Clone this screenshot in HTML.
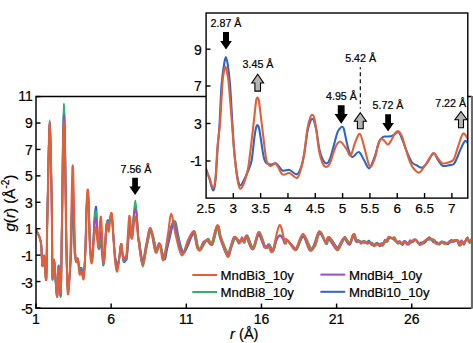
<!DOCTYPE html>
<html><head><meta charset="utf-8"><style>
html,body{margin:0;padding:0;background:#fff;width:473px;height:343px;overflow:hidden}
svg{display:block}
text{stroke:#000;stroke-width:0.22px}
</style></head><body>
<svg width="473" height="343" viewBox="0 0 473 343">
<defs><clipPath id="cm"><rect x="36" y="96.6" width="436" height="211.4"/></clipPath><clipPath id="ci"><rect x="206" y="13" width="261.8" height="185"/></clipPath></defs>
<rect width="473" height="343" fill="#fff"/>
<g clip-path="url(#cm)" fill="none" stroke-width="2.1" stroke-linejoin="round" stroke-linecap="round">
<path d="M36.20,229.90 C36.75,231.13 38.67,234.82 39.50,237.30 C40.33,239.78 40.72,240.05 41.20,244.80 C41.68,249.55 41.90,263.95 42.40,265.80 C42.90,267.65 43.57,253.62 44.20,255.90 C44.83,258.18 45.72,283.82 46.20,279.50 C46.68,275.18 46.83,244.08 47.10,230.00 C47.37,215.92 47.57,206.67 47.80,195.00 C48.03,183.33 48.28,170.00 48.50,160.00 C48.72,150.00 48.90,141.33 49.10,135.00 C49.30,128.67 49.50,122.00 49.70,122.00 C49.90,122.00 50.10,128.67 50.30,135.00 C50.50,141.33 50.68,150.00 50.90,160.00 C51.12,170.00 51.40,182.50 51.60,195.00 C51.80,207.50 51.95,220.95 52.10,235.00 C52.25,249.05 52.17,275.18 52.50,279.30 C52.83,283.42 53.35,256.82 54.10,259.70 C54.85,262.58 56.26,295.60 57.00,296.60 C57.74,297.60 58.13,268.36 58.55,265.69 C58.96,263.02 59.18,275.38 59.51,280.58 C59.83,285.77 60.22,296.64 60.50,296.88 C60.77,297.11 60.96,291.56 61.16,281.99 C61.36,272.43 61.52,252.46 61.71,239.47 C61.89,226.48 62.08,219.25 62.26,204.04 C62.44,188.82 62.60,162.37 62.81,148.19 C63.01,134.02 63.30,125.75 63.50,118.99 C63.69,112.24 63.82,107.66 63.99,107.66 C64.17,107.66 64.34,112.24 64.54,118.99 C64.74,125.75 64.96,134.02 65.17,148.19 C65.39,162.37 65.66,189.30 65.83,204.04 C66.01,218.78 66.09,226.48 66.25,236.64 C66.41,246.80 66.61,257.43 66.80,264.98 C66.98,272.54 67.15,277.86 67.35,281.99 C67.54,286.13 67.70,289.79 67.98,289.79 C68.26,289.79 68.62,285.66 69.00,281.99 C69.37,278.33 69.88,272.54 70.24,267.82 C70.59,263.10 70.84,261.54 71.12,253.65 C71.39,245.76 71.69,228.06 71.89,220.48 C72.08,212.90 72.16,210.89 72.30,208.15 C72.44,205.41 72.57,204.04 72.71,204.04 C72.85,204.04 72.99,205.41 73.12,208.15 C73.26,210.89 73.28,212.90 73.54,220.48 C73.79,228.06 74.19,247.06 74.64,253.65 C75.09,260.24 75.70,259.20 76.23,260.02 C76.77,260.85 77.30,257.19 77.86,258.61 C78.41,260.02 78.98,266.99 79.59,268.53 C80.20,270.06 80.85,266.92 81.51,267.82 C82.18,268.72 83.03,274.86 83.58,273.91 C84.13,272.97 84.47,267.42 84.81,262.15 C85.16,256.88 85.36,250.57 85.64,242.31 C85.91,234.04 86.19,219.91 86.46,212.54 C86.74,205.17 87.07,200.92 87.29,198.08 C87.51,195.25 87.60,195.53 87.76,195.53 C87.92,195.53 88.06,195.25 88.25,198.08 C88.45,200.92 88.69,205.64 88.94,212.54 C89.19,219.44 89.47,232.62 89.77,239.47 C90.06,246.32 90.39,250.50 90.73,253.65 C91.07,256.79 91.48,258.63 91.80,258.32 C92.12,258.02 92.35,255.77 92.65,251.80 C92.96,247.83 93.28,240.70 93.62,234.51 C93.96,228.32 94.39,218.97 94.69,214.67 C94.99,210.37 95.22,210.06 95.43,208.71 C95.64,207.37 95.79,206.52 95.95,206.59 C96.12,206.66 96.26,206.14 96.45,209.14 C96.64,212.14 96.84,219.13 97.08,224.59 C97.33,230.05 97.63,237.75 97.94,241.88 C98.24,246.02 98.46,249.32 98.90,249.39 C99.34,249.46 100.06,241.60 100.58,242.31 C101.09,243.02 101.53,249.80 102.01,253.65 C102.49,257.50 102.96,266.40 103.46,265.41 C103.97,264.42 104.59,253.91 105.03,247.69 C105.48,241.48 105.77,232.57 106.13,228.13 C106.49,223.69 106.86,222.35 107.21,221.05 C107.55,219.75 107.84,220.50 108.20,220.34 C108.55,220.17 108.98,220.53 109.35,220.05 C109.72,219.58 110.03,218.47 110.40,217.50 C110.76,216.53 111.16,212.94 111.52,214.24 C111.89,215.54 112.23,220.95 112.60,225.30 C112.96,229.64 113.28,235.13 113.70,240.32 C114.12,245.52 114.65,252.96 115.13,256.48 C115.61,260.00 116.10,260.12 116.59,261.44 C117.07,262.76 117.56,265.01 118.02,264.42 C118.47,263.83 118.82,261.30 119.34,257.90 C119.85,254.50 120.59,244.72 121.10,244.01 C121.60,243.30 121.94,250.67 122.36,253.65 C122.78,256.62 123.07,260.66 123.60,261.87 C124.13,263.07 125.01,261.30 125.53,260.87 C126.04,260.45 126.36,260.99 126.71,259.32 C127.05,257.64 127.30,253.98 127.59,250.81 C127.87,247.65 128.05,244.34 128.41,240.32 C128.78,236.31 129.39,228.37 129.76,226.72 C130.13,225.06 130.24,228.52 130.61,230.40 C130.99,232.28 131.47,240.40 132.00,238.00 C132.53,235.60 133.25,221.17 133.80,216.00 C134.35,210.83 134.80,207.00 135.30,207.00 C135.80,207.00 136.27,210.50 136.80,216.00 C137.33,221.50 138.12,235.89 138.50,240.00 C138.88,244.11 138.33,237.07 139.10,240.68 C139.87,244.28 141.77,260.98 143.10,261.62 C144.43,262.26 145.75,249.75 147.10,244.51 C148.45,239.27 149.65,229.34 151.20,230.19 C152.75,231.05 154.92,247.18 156.40,249.63 C157.88,252.08 158.73,243.25 160.10,244.89 C161.47,246.54 163.40,258.90 164.60,259.50 C165.80,260.10 166.33,252.50 167.30,248.50 C168.27,244.50 169.45,239.50 170.40,235.50 C171.35,231.50 172.13,226.73 173.00,224.50 C173.87,222.27 174.72,220.27 175.60,222.10 C176.48,223.93 177.35,231.27 178.30,235.50 C179.25,239.73 180.28,244.67 181.30,247.50 C182.32,250.33 183.15,253.17 184.40,252.50 C185.65,251.83 187.12,247.06 188.80,243.50 C190.48,239.94 193.05,230.45 194.50,231.16 C195.95,231.88 196.48,244.91 197.50,247.79 C198.52,250.67 199.53,249.12 200.60,248.44 C201.67,247.77 202.65,245.26 203.90,243.72 C205.15,242.18 206.70,239.04 208.10,239.20 C209.50,239.36 210.68,246.91 212.30,244.70 C213.92,242.49 216.35,226.87 217.80,225.92 C219.25,224.96 219.30,233.94 221.00,238.99 C222.70,244.05 226.30,255.00 228.00,256.26 C229.70,257.53 230.02,249.55 231.20,246.60 C232.38,243.66 233.60,239.54 235.10,238.62 C236.60,237.71 238.92,240.88 240.20,241.12 C241.48,241.35 242.12,239.80 242.80,240.05 C243.48,240.29 243.57,243.38 244.30,242.57 C245.03,241.76 245.70,234.31 247.20,235.20 C248.70,236.10 251.32,248.01 253.30,247.92 C255.28,247.84 257.13,234.89 259.10,234.69 C261.07,234.49 263.62,244.61 265.10,246.71 C266.58,248.80 267.28,247.66 268.00,247.27 C268.72,246.88 268.55,243.66 269.40,244.38 C270.25,245.10 271.92,252.32 273.10,251.59 C274.28,250.86 275.43,242.70 276.50,240.00 C277.57,237.30 278.50,235.73 279.50,235.40 C280.50,235.07 281.50,237.06 282.50,238.00 C283.50,238.94 284.70,240.67 285.50,241.06 C286.30,241.46 285.78,239.17 287.30,240.37 C288.82,241.57 292.97,246.87 294.60,248.29 C296.23,249.70 295.58,250.85 297.10,248.86 C298.62,246.88 301.45,236.18 303.70,236.38 C305.95,236.57 308.72,248.83 310.60,250.05 C312.48,251.26 313.42,246.38 315.00,243.66 C316.58,240.95 318.22,233.71 320.10,233.77 C321.98,233.84 324.78,243.53 326.30,244.07 C327.82,244.61 327.45,236.53 329.20,237.02 C330.95,237.52 335.17,245.34 336.80,247.02 C338.43,248.70 337.67,248.78 339.00,247.10 C340.33,245.42 342.98,237.36 344.80,236.97 C346.62,236.57 348.35,245.25 349.90,244.74 C351.45,244.22 352.97,234.32 354.10,233.87 C355.23,233.41 355.83,240.85 356.70,242.01 C357.57,243.18 358.42,240.89 359.30,240.86 C360.18,240.83 361.18,241.52 362.00,241.84 C362.82,242.16 363.40,242.67 364.20,242.77 C365.00,242.87 366.00,242.80 366.80,242.44 C367.60,242.09 368.20,240.23 369.00,240.65 C369.80,241.07 370.58,244.41 371.60,244.96 C372.62,245.52 374.15,244.35 375.10,243.99 C376.05,243.63 376.57,242.43 377.30,242.81 C378.03,243.19 378.85,246.04 379.50,246.27 C380.15,246.50 380.55,244.65 381.20,244.20 C381.85,243.75 382.67,244.03 383.40,243.57 C384.13,243.12 384.95,241.76 385.60,241.46 C386.25,241.15 386.67,242.44 387.30,241.74 C387.93,241.03 388.53,237.79 389.40,237.22 C390.27,236.65 391.68,237.91 392.50,238.30 C393.32,238.70 393.63,239.02 394.30,239.59 C394.97,240.16 395.92,241.37 396.50,241.71 C397.08,242.05 397.22,241.69 397.80,241.62 C398.38,241.55 399.20,240.71 400.00,241.30 C400.80,241.89 401.73,245.20 402.60,245.17 C403.47,245.13 404.25,241.32 405.20,241.09 C406.15,240.85 407.35,243.43 408.30,243.73 C409.25,244.03 409.95,243.62 410.90,242.87 C411.85,242.13 413.05,239.54 414.00,239.26 C414.95,238.97 415.80,240.44 416.60,241.18 C417.40,241.92 418.07,243.49 418.80,243.70 C419.53,243.91 420.20,242.44 421.00,242.42 C421.80,242.41 422.73,243.79 423.60,243.59 C424.47,243.39 425.28,242.31 426.20,241.23 C427.12,240.16 428.18,237.32 429.10,237.14 C430.02,236.96 430.85,239.42 431.70,240.17 C432.55,240.92 433.35,241.32 434.20,241.64 C435.05,241.96 435.95,241.63 436.80,242.09 C437.65,242.55 438.37,244.49 439.30,244.42 C440.23,244.36 441.47,242.04 442.40,241.70 C443.33,241.35 443.97,241.92 444.90,242.37 C445.83,242.82 446.97,244.76 448.00,244.38 C449.03,243.99 450.08,240.51 451.10,240.06 C452.12,239.61 453.00,241.66 454.10,241.66 C455.20,241.67 456.68,239.79 457.70,240.08 C458.72,240.37 459.43,242.94 460.20,243.39 C460.97,243.83 461.62,242.56 462.30,242.75 C462.98,242.93 463.45,245.40 464.30,244.49 C465.15,243.58 466.55,237.59 467.40,237.30 C468.25,237.00 468.63,242.23 469.40,242.73 C470.17,243.23 471.13,240.97 472.00,240.29 C472.87,239.61 474.17,238.92 474.60,238.65" stroke="#2E66C4" stroke-width="1.8"/>
<path d="M36.20,229.90 C36.75,231.13 38.67,234.82 39.50,237.30 C40.33,239.78 40.72,240.05 41.20,244.80 C41.68,249.55 41.90,263.95 42.40,265.80 C42.90,267.65 43.57,253.62 44.20,255.90 C44.83,258.18 45.72,283.82 46.20,279.50 C46.68,275.18 46.83,244.08 47.10,230.00 C47.37,215.92 47.57,206.67 47.80,195.00 C48.03,183.33 48.28,170.00 48.50,160.00 C48.72,150.00 48.90,141.65 49.10,135.00 C49.30,128.35 49.50,120.10 49.70,120.10 C49.90,120.10 50.10,128.35 50.30,135.00 C50.50,141.65 50.68,150.00 50.90,160.00 C51.12,170.00 51.40,182.50 51.60,195.00 C51.80,207.50 51.95,220.95 52.10,235.00 C52.25,249.05 52.17,275.18 52.50,279.30 C52.83,283.42 53.35,256.82 54.10,259.70 C54.85,262.58 56.26,295.49 57.00,296.60 C57.74,297.71 58.13,269.09 58.55,266.37 C58.96,263.66 59.18,275.33 59.51,280.29 C59.83,285.26 60.22,295.98 60.50,296.17 C60.77,296.36 60.96,291.02 61.16,281.43 C61.36,271.83 61.52,251.34 61.71,238.61 C61.89,225.88 62.08,219.49 62.26,205.04 C62.44,190.59 62.60,165.91 62.81,151.92 C63.01,137.93 63.30,129.09 63.50,121.10 C63.69,113.12 63.82,103.78 63.99,104.00 C64.17,104.21 64.34,114.32 64.54,122.39 C64.74,130.45 64.96,138.52 65.17,152.38 C65.39,166.25 65.66,191.47 65.83,205.58 C66.01,219.68 66.09,227.11 66.25,237.01 C66.41,246.91 66.61,257.39 66.80,264.98 C66.98,272.58 67.15,278.29 67.35,282.58 C67.54,286.87 67.70,290.68 67.98,290.72 C68.26,290.77 68.62,286.90 69.00,282.84 C69.37,278.79 69.88,272.22 70.24,266.40 C70.59,260.59 70.84,256.63 71.12,247.96 C71.39,239.29 71.69,222.24 71.89,214.38 C72.08,206.52 72.16,203.83 72.30,200.82 C72.44,197.80 72.57,196.28 72.71,196.27 C72.85,196.26 72.99,197.82 73.12,200.76 C73.26,203.69 73.28,205.74 73.54,213.87 C73.79,222.01 74.19,241.82 74.64,249.58 C75.09,257.34 75.70,258.91 76.23,260.45 C76.77,261.99 77.30,257.30 77.86,258.84 C78.41,260.38 78.98,268.02 79.59,269.66 C80.20,271.30 80.85,267.79 81.51,268.67 C82.18,269.55 83.03,276.00 83.58,274.96 C84.13,273.92 84.47,267.90 84.81,262.43 C85.16,256.97 85.36,250.64 85.64,242.19 C85.91,233.75 86.19,219.31 86.46,211.78 C86.74,204.24 87.07,199.90 87.29,197.00 C87.51,194.10 87.60,194.37 87.76,194.40 C87.92,194.43 88.06,194.14 88.25,197.18 C88.45,200.22 88.69,205.46 88.94,212.63 C89.19,219.80 89.47,233.22 89.77,240.22 C90.06,247.22 90.39,251.49 90.73,254.65 C91.07,257.81 91.48,259.43 91.80,259.16 C92.12,258.89 92.35,256.84 92.65,253.02 C92.96,249.20 93.28,242.08 93.62,236.24 C93.96,230.40 94.39,221.94 94.69,217.99 C94.99,214.05 95.22,213.70 95.43,212.58 C95.64,211.47 95.79,211.07 95.95,211.31 C96.12,211.54 96.26,211.34 96.45,213.98 C96.64,216.61 96.84,222.41 97.08,227.14 C97.33,231.86 97.63,238.98 97.94,242.34 C98.24,245.70 98.46,248.05 98.90,247.29 C99.34,246.54 100.06,237.38 100.58,237.82 C101.09,238.25 101.53,245.48 102.01,249.90 C102.49,254.33 102.96,264.64 103.46,264.35 C103.97,264.07 104.59,254.19 105.03,248.20 C105.48,242.22 105.77,232.81 106.13,228.43 C106.49,224.04 106.86,222.94 107.21,221.90 C107.55,220.86 107.84,222.26 108.20,222.16 C108.55,222.07 108.98,222.12 109.35,221.34 C109.72,220.56 110.03,218.69 110.40,217.48 C110.76,216.27 111.16,212.86 111.52,214.08 C111.89,215.30 112.23,220.37 112.60,224.79 C112.96,229.21 113.28,235.16 113.70,240.58 C114.12,246.00 114.65,253.60 115.13,257.32 C115.61,261.05 116.10,261.69 116.59,262.94 C117.07,264.19 117.56,265.68 118.02,264.81 C118.47,263.94 118.82,261.19 119.34,257.72 C119.85,254.25 120.59,244.76 121.10,244.01 C121.60,243.26 121.94,250.36 122.36,253.22 C122.78,256.08 123.07,260.06 123.60,261.19 C124.13,262.32 125.01,260.53 125.53,260.00 C126.04,259.46 126.36,259.90 126.71,257.98 C127.05,256.06 127.30,251.85 127.59,248.48 C127.87,245.11 128.05,241.64 128.41,237.76 C128.78,233.88 129.39,226.64 129.76,225.20 C130.13,223.77 130.24,227.02 130.61,229.15 C130.99,231.29 131.47,240.53 132.00,238.00 C132.53,235.47 133.25,220.25 133.80,214.00 C134.35,207.75 134.80,200.50 135.30,200.50 C135.80,200.50 136.27,207.42 136.80,214.00 C137.33,220.58 138.07,235.53 138.50,240.00 C138.93,244.47 138.72,236.41 139.40,240.82 C140.08,245.24 141.27,266.02 142.60,266.50 C143.93,266.98 145.92,249.64 147.40,243.70 C148.88,237.76 149.95,229.81 151.50,230.87 C153.05,231.92 155.22,247.82 156.70,250.03 C158.18,252.24 159.22,242.64 160.40,244.14 C161.58,245.63 162.78,258.36 163.80,259.00 C164.82,259.64 165.53,252.00 166.50,248.00 C167.47,244.00 168.65,239.00 169.60,235.00 C170.55,231.00 171.33,226.23 172.20,224.00 C173.07,221.77 173.92,219.77 174.80,221.60 C175.68,223.43 176.55,230.77 177.50,235.00 C178.45,239.23 179.48,244.17 180.50,247.00 C181.52,249.83 182.35,252.67 183.60,252.00 C184.85,251.33 186.13,246.16 188.00,243.00 C189.87,239.84 193.17,232.67 194.80,233.04 C196.43,233.40 196.78,242.43 197.80,245.19 C198.82,247.95 199.83,249.73 200.90,249.60 C201.97,249.47 202.95,246.24 204.20,244.43 C205.45,242.61 207.00,238.66 208.40,238.70 C209.80,238.74 210.98,246.80 212.60,244.69 C214.22,242.57 216.65,227.19 218.10,226.02 C219.55,224.85 219.60,233.07 221.30,237.67 C223.00,242.26 226.60,251.88 228.30,253.58 C230.00,255.28 230.32,250.47 231.50,247.89 C232.68,245.31 233.90,239.10 235.40,238.10 C236.90,237.10 239.22,241.62 240.50,241.89 C241.78,242.15 242.42,239.61 243.10,239.70 C243.78,239.80 243.87,243.01 244.60,242.43 C245.33,241.86 246.00,235.08 247.50,236.23 C249.00,237.39 251.62,250.08 253.60,249.38 C255.58,248.67 257.43,232.41 259.40,231.99 C261.37,231.58 263.92,244.47 265.40,246.87 C266.88,249.27 267.58,246.79 268.30,246.40 C269.02,246.02 268.85,243.83 269.70,244.58 C270.55,245.33 272.27,251.68 273.40,250.92 C274.53,250.15 275.43,242.65 276.50,240.00 C277.57,237.35 278.75,235.33 279.80,235.00 C280.85,234.67 281.80,236.54 282.80,238.00 C283.80,239.46 285.00,243.38 285.80,243.75 C286.60,244.13 286.08,239.33 287.60,240.27 C289.12,241.21 293.27,248.12 294.90,249.41 C296.53,250.70 295.88,250.36 297.40,248.01 C298.92,245.66 301.75,235.35 304.00,235.32 C306.25,235.29 309.02,246.03 310.90,247.83 C312.78,249.64 313.72,248.88 315.30,246.17 C316.88,243.46 318.52,231.97 320.40,231.58 C322.28,231.18 325.08,242.83 326.60,243.80 C328.12,244.77 327.75,236.54 329.50,237.39 C331.25,238.24 335.47,247.06 337.10,248.89 C338.73,250.73 337.97,250.13 339.30,248.40 C340.63,246.67 343.28,239.43 345.10,238.51 C346.92,237.59 348.65,243.48 350.20,242.86 C351.75,242.24 353.27,235.00 354.40,234.80 C355.53,234.59 356.13,240.52 357.00,241.65 C357.87,242.78 358.72,241.59 359.60,241.58 C360.48,241.57 361.48,241.72 362.30,241.60 C363.12,241.47 363.70,240.44 364.50,240.82 C365.30,241.20 366.30,243.57 367.10,243.89 C367.90,244.22 368.50,242.98 369.30,242.77 C370.10,242.55 370.88,242.19 371.90,242.58 C372.92,242.97 374.45,244.76 375.40,245.12 C376.35,245.48 376.87,244.70 377.60,244.73 C378.33,244.76 379.15,245.58 379.80,245.28 C380.45,244.98 380.85,243.16 381.50,242.95 C382.15,242.74 382.97,244.28 383.70,244.02 C384.43,243.76 385.25,241.86 385.90,241.39 C386.55,240.93 386.97,241.75 387.60,241.22 C388.23,240.69 388.83,238.77 389.70,238.22 C390.57,237.66 391.98,238.05 392.80,237.90 C393.62,237.74 393.93,236.62 394.60,237.27 C395.27,237.93 396.22,240.70 396.80,241.81 C397.38,242.92 397.52,243.77 398.10,243.92 C398.68,244.07 399.50,242.93 400.30,242.71 C401.10,242.48 402.03,242.75 402.90,242.54 C403.77,242.34 404.55,241.11 405.50,241.48 C406.45,241.85 407.65,244.68 408.60,244.75 C409.55,244.81 410.25,242.71 411.20,241.86 C412.15,241.01 413.35,239.91 414.30,239.65 C415.25,239.40 416.10,239.60 416.90,240.32 C417.70,241.04 418.37,243.31 419.10,243.98 C419.83,244.64 420.50,244.61 421.30,244.29 C422.10,243.97 423.03,242.82 423.90,242.07 C424.77,241.32 425.58,240.17 426.50,239.81 C427.42,239.45 428.48,240.02 429.40,239.93 C430.32,239.83 431.15,239.27 432.00,239.25 C432.85,239.23 433.65,239.11 434.50,239.83 C435.35,240.54 436.25,242.75 437.10,243.55 C437.95,244.34 438.67,244.89 439.60,244.58 C440.53,244.27 441.77,242.04 442.70,241.69 C443.63,241.33 444.27,242.20 445.20,242.47 C446.13,242.74 447.27,243.33 448.30,243.31 C449.33,243.28 450.38,242.87 451.40,242.32 C452.42,241.77 453.30,240.28 454.40,239.99 C455.50,239.70 456.98,239.64 458.00,240.60 C459.02,241.56 459.73,245.55 460.50,245.74 C461.27,245.93 461.92,242.27 462.60,241.75 C463.28,241.24 463.75,243.23 464.60,242.67 C465.45,242.11 466.85,238.37 467.70,238.40 C468.55,238.44 468.93,242.55 469.70,242.87 C470.47,243.19 471.43,240.91 472.30,240.30 C473.17,239.70 474.47,239.41 474.90,239.24" stroke="#2DB46A" stroke-width="1.8"/>
<path d="M36.20,229.90 C36.75,231.13 38.67,234.82 39.50,237.30 C40.33,239.78 40.72,240.05 41.20,244.80 C41.68,249.55 41.90,263.95 42.40,265.80 C42.90,267.65 43.57,253.62 44.20,255.90 C44.83,258.18 45.72,283.82 46.20,279.50 C46.68,275.18 46.83,244.08 47.10,230.00 C47.37,215.92 47.57,206.67 47.80,195.00 C48.03,183.33 48.28,170.00 48.50,160.00 C48.72,150.00 48.90,141.33 49.10,135.00 C49.30,128.67 49.50,122.00 49.70,122.00 C49.90,122.00 50.10,128.67 50.30,135.00 C50.50,141.33 50.68,150.00 50.90,160.00 C51.12,170.00 51.40,182.50 51.60,195.00 C51.80,207.50 51.95,221.33 52.10,235.00 C52.25,248.67 52.17,272.68 52.50,277.00 C52.83,281.32 53.35,257.63 54.10,260.90 C54.85,264.17 56.26,295.52 57.00,296.60 C57.74,297.68 58.13,270.18 58.55,267.39 C58.96,264.61 59.18,275.25 59.51,279.87 C59.83,284.49 60.22,294.99 60.50,295.10 C60.77,295.22 60.96,290.21 61.16,280.58 C61.36,270.94 61.52,249.65 61.71,237.31 C61.89,224.97 62.08,219.85 62.26,206.55 C62.44,193.25 62.60,171.22 62.81,157.50 C63.01,143.79 63.30,131.26 63.50,124.26 C63.69,117.27 63.82,115.00 63.99,115.53 C64.17,116.07 64.34,120.29 64.54,127.48 C64.74,134.67 64.96,145.26 65.17,158.66 C65.39,172.07 65.66,194.74 65.83,207.89 C66.01,221.04 66.09,228.06 66.25,237.57 C66.41,247.09 66.61,257.34 66.80,264.98 C66.98,272.63 67.15,278.95 67.35,283.47 C67.54,287.99 67.70,292.02 67.98,292.13 C68.26,292.24 68.62,288.76 69.00,284.12 C69.37,279.48 69.88,271.72 70.24,264.28 C70.59,256.83 70.84,249.27 71.12,239.43 C71.39,229.59 71.69,213.51 71.89,205.24 C72.08,196.97 72.16,193.25 72.30,189.82 C72.44,186.38 72.57,184.64 72.71,184.62 C72.85,184.60 72.99,186.45 73.12,189.67 C73.26,192.90 73.28,195.00 73.54,203.97 C73.79,212.94 74.19,233.96 74.64,243.48 C75.09,253.00 75.70,258.47 76.23,261.09 C76.77,263.71 77.30,257.48 77.86,259.19 C78.41,260.90 78.98,269.57 79.59,271.36 C80.20,273.16 80.85,269.08 81.51,269.95 C82.18,270.81 83.03,277.72 83.58,276.54 C84.13,275.36 84.47,268.61 84.81,262.86 C85.16,257.11 85.36,250.73 85.64,242.02 C85.91,233.32 86.19,218.40 86.46,210.63 C86.74,202.85 87.07,198.36 87.29,195.38 C87.51,192.39 87.60,192.62 87.76,192.70 C87.92,192.77 88.06,192.49 88.25,195.83 C88.45,199.17 88.69,205.17 88.94,212.76 C89.19,220.34 89.47,234.11 89.77,241.34 C90.06,248.57 90.39,252.97 90.73,256.16 C91.07,259.34 91.48,260.64 91.80,260.42 C92.12,260.21 92.35,258.45 92.65,254.85 C92.96,251.25 93.28,244.15 93.62,238.83 C93.96,233.52 94.39,226.39 94.69,222.98 C94.99,219.58 95.22,219.15 95.43,218.38 C95.64,217.61 95.79,217.91 95.95,218.38 C96.12,218.86 96.26,219.13 96.45,221.23 C96.64,223.32 96.84,227.32 97.08,230.96 C97.33,234.59 97.63,240.84 97.94,243.03 C98.24,245.23 98.46,246.13 98.90,244.14 C99.34,242.15 100.06,231.06 100.58,231.08 C101.09,231.11 101.53,239.01 102.01,244.29 C102.49,249.57 102.96,261.99 103.46,262.76 C103.97,263.54 104.59,254.62 105.03,248.97 C105.48,243.32 105.77,233.16 106.13,228.86 C106.49,224.57 106.86,223.84 107.21,223.18 C107.55,222.52 107.84,224.89 108.20,224.90 C108.55,224.92 108.98,224.51 109.35,223.27 C109.72,222.02 110.03,219.01 110.40,217.44 C110.76,215.87 111.16,212.74 111.52,213.84 C111.89,214.94 112.23,219.51 112.60,224.03 C112.96,228.55 113.28,235.20 113.70,240.96 C114.12,246.72 114.65,254.55 115.13,258.59 C115.61,262.63 116.10,264.06 116.59,265.19 C117.07,266.32 117.56,266.68 118.02,265.39 C118.47,264.10 118.82,261.02 119.34,257.45 C119.85,253.89 120.59,244.82 121.10,244.01 C121.60,243.20 121.94,249.89 122.36,252.58 C122.78,255.28 123.07,259.15 123.60,260.17 C124.13,261.18 125.01,259.37 125.53,258.68 C126.04,257.98 126.36,258.27 126.71,255.98 C127.05,253.70 127.30,248.66 127.59,244.98 C127.87,241.30 128.05,237.60 128.41,233.92 C128.78,230.25 129.39,224.04 129.76,222.93 C130.13,221.82 130.24,224.77 130.61,227.28 C130.99,229.79 131.47,239.88 132.00,238.00 C132.53,236.12 133.25,220.83 133.80,216.00 C134.35,211.17 134.80,209.00 135.30,209.00 C135.80,209.00 136.27,210.83 136.80,216.00 C137.33,221.17 137.62,232.19 138.50,240.00 C139.38,247.81 140.83,262.09 142.10,262.84 C143.37,263.58 144.75,250.16 146.10,244.48 C147.45,238.79 148.65,227.50 150.20,228.74 C151.75,229.98 153.92,249.50 155.40,251.91 C156.88,254.33 157.87,242.35 159.10,243.22 C160.33,244.09 162.10,254.33 162.80,257.13 C163.50,259.93 162.77,261.35 163.30,260.00 C163.83,258.65 165.03,253.00 166.00,249.00 C166.97,245.00 168.15,240.00 169.10,236.00 C170.05,232.00 170.83,227.23 171.70,225.00 C172.57,222.77 173.42,220.77 174.30,222.60 C175.18,224.43 176.05,231.77 177.00,236.00 C177.95,240.23 178.98,245.17 180.00,248.00 C181.02,250.83 181.85,253.67 183.10,253.00 C184.35,252.33 185.77,247.15 187.50,244.00 C189.23,240.85 192.00,233.91 193.50,234.08 C195.00,234.24 195.48,242.24 196.50,244.99 C197.52,247.75 198.53,251.07 199.60,250.60 C200.67,250.13 201.65,243.82 202.90,242.17 C204.15,240.52 205.70,240.40 207.10,240.70 C208.50,241.00 209.68,246.38 211.30,243.99 C212.92,241.60 215.35,227.31 216.80,226.36 C218.25,225.41 218.30,233.52 220.00,238.29 C221.70,243.07 225.30,253.47 227.00,254.99 C228.70,256.51 229.02,250.44 230.20,247.41 C231.38,244.39 232.60,237.45 234.10,236.83 C235.60,236.21 237.92,243.62 239.20,243.71 C240.48,243.79 241.12,237.75 241.80,237.33 C242.48,236.91 242.57,241.18 243.30,241.18 C244.03,241.18 244.70,235.99 246.20,237.34 C247.70,238.69 250.32,249.76 252.30,249.30 C254.28,248.83 256.13,234.94 258.10,234.57 C260.07,234.21 262.62,245.20 264.10,247.10 C265.58,249.00 266.28,246.37 267.00,245.97 C267.72,245.58 267.55,243.91 268.40,244.71 C269.25,245.52 270.75,251.60 272.10,250.82 C273.45,250.03 275.27,242.47 276.50,240.00 C277.73,237.53 278.50,236.33 279.50,236.00 C280.50,235.67 281.67,236.71 282.50,238.00 C283.33,239.29 283.87,243.57 284.50,243.74 C285.13,243.92 284.78,238.52 286.30,239.05 C287.82,239.58 291.97,245.35 293.60,246.92 C295.23,248.50 294.58,250.34 296.10,248.52 C297.62,246.71 300.45,235.72 302.70,236.04 C304.95,236.35 307.72,249.02 309.60,250.41 C311.48,251.80 312.42,247.55 314.00,244.36 C315.58,241.17 317.22,231.75 319.10,231.27 C320.98,230.79 323.78,240.28 325.30,241.48 C326.82,242.68 326.45,237.20 328.20,238.47 C329.95,239.74 334.17,247.60 335.80,249.10 C337.43,250.59 336.67,249.28 338.00,247.44 C339.33,245.61 341.98,238.56 343.80,238.08 C345.62,237.60 347.35,245.15 348.90,244.57 C350.45,243.99 351.97,235.09 353.10,234.60 C354.23,234.12 354.83,240.79 355.70,241.67 C356.57,242.55 357.42,239.50 358.30,239.89 C359.18,240.27 360.18,243.72 361.00,243.96 C361.82,244.19 362.40,241.63 363.20,241.30 C364.00,240.96 365.00,241.59 365.80,241.96 C366.60,242.32 367.20,243.38 368.00,243.47 C368.80,243.56 369.58,241.99 370.60,242.49 C371.62,242.98 373.15,246.28 374.10,246.43 C375.05,246.58 375.57,243.85 376.30,243.39 C377.03,242.92 377.85,243.45 378.50,243.64 C379.15,243.84 379.55,244.24 380.20,244.55 C380.85,244.86 381.67,246.25 382.40,245.48 C383.13,244.71 383.95,240.76 384.60,239.96 C385.25,239.16 385.67,240.97 386.30,240.70 C386.93,240.42 387.53,238.77 388.40,238.31 C389.27,237.85 390.68,237.79 391.50,237.96 C392.32,238.13 392.63,238.74 393.30,239.31 C393.97,239.89 394.92,241.05 395.50,241.41 C396.08,241.78 396.22,241.34 396.80,241.49 C397.38,241.64 398.20,241.85 399.00,242.30 C399.80,242.75 400.73,244.44 401.60,244.19 C402.47,243.95 403.25,240.73 404.20,240.84 C405.15,240.96 406.35,244.98 407.30,244.88 C408.25,244.79 408.95,240.74 409.90,240.28 C410.85,239.83 412.05,242.28 413.00,242.14 C413.95,241.99 414.80,239.40 415.60,239.40 C416.40,239.41 417.07,241.18 417.80,242.17 C418.53,243.15 419.20,245.34 420.00,245.32 C420.80,245.29 421.73,242.76 422.60,242.00 C423.47,241.23 424.28,241.31 425.20,240.74 C426.12,240.17 427.18,238.95 428.10,238.57 C429.02,238.20 429.85,237.87 430.70,238.49 C431.55,239.12 432.35,241.70 433.20,242.34 C434.05,242.97 434.95,242.01 435.80,242.31 C436.65,242.62 437.37,244.34 438.30,244.17 C439.23,244.00 440.47,241.44 441.40,241.29 C442.33,241.15 442.97,242.95 443.90,243.29 C444.83,243.63 445.97,243.75 447.00,243.33 C448.03,242.91 449.08,240.97 450.10,240.74 C451.12,240.52 452.00,242.13 453.10,241.99 C454.20,241.86 455.68,239.29 456.70,239.92 C457.72,240.56 458.43,245.74 459.20,245.81 C459.97,245.88 460.62,240.79 461.30,240.36 C461.98,239.93 462.45,243.42 463.30,243.25 C464.15,243.07 465.55,239.78 466.40,239.32 C467.25,238.86 467.63,240.27 468.40,240.50 C469.17,240.73 470.13,240.80 471.00,240.70 C471.87,240.59 473.17,240.00 473.60,239.86" stroke="#9B4FBF" stroke-width="1.8"/>
<path d="M36.20,229.90 C36.75,231.13 38.67,234.82 39.50,237.30 C40.33,239.78 40.72,240.05 41.20,244.80 C41.68,249.55 41.90,263.95 42.40,265.80 C42.90,267.65 43.57,253.62 44.20,255.90 C44.83,258.18 45.72,283.82 46.20,279.50 C46.68,275.18 46.83,244.08 47.10,230.00 C47.37,215.92 47.57,206.67 47.80,195.00 C48.03,183.33 48.28,170.00 48.50,160.00 C48.72,150.00 48.90,141.33 49.10,135.00 C49.30,128.67 49.50,122.00 49.70,122.00 C49.90,122.00 50.10,128.67 50.30,135.00 C50.50,141.33 50.68,150.00 50.90,160.00 C51.12,170.00 51.40,182.50 51.60,195.00 C51.80,207.50 51.95,221.33 52.10,235.00 C52.25,248.67 52.17,272.68 52.50,277.00 C52.83,281.32 53.35,257.63 54.10,260.90 C54.85,264.17 56.26,295.23 57.00,296.60 C57.74,297.97 58.13,272.00 58.55,269.10 C58.96,266.19 59.18,275.12 59.51,279.16 C59.83,283.20 60.22,293.33 60.50,293.33 C60.77,293.33 60.95,289.22 61.16,279.16 C61.36,269.10 61.53,245.47 61.74,232.95 C61.94,220.43 62.15,218.16 62.37,204.04 C62.58,189.91 62.87,159.91 63.03,148.19 C63.18,136.48 63.16,138.25 63.30,133.74 C63.45,129.22 63.68,121.12 63.88,121.12 C64.08,121.12 64.33,129.22 64.49,133.74 C64.65,138.25 64.64,136.48 64.84,148.19 C65.05,159.91 65.51,189.91 65.72,204.04 C65.94,218.16 65.98,223.50 66.14,232.95 C66.30,242.40 66.49,252.20 66.69,260.73 C66.88,269.26 67.08,278.50 67.29,284.12 C67.51,289.74 67.70,294.11 67.98,294.47 C68.26,294.82 68.66,290.69 69.00,286.25 C69.34,281.80 69.77,273.25 70.02,267.82 C70.26,262.39 70.25,261.54 70.46,253.65 C70.66,245.76 70.98,231.51 71.23,220.48 C71.47,209.45 71.75,196.03 71.94,187.45 C72.13,178.88 72.23,172.74 72.35,169.03 C72.48,165.32 72.59,165.20 72.71,165.20 C72.83,165.20 72.93,165.32 73.07,169.03 C73.21,172.74 73.33,178.88 73.54,187.45 C73.74,196.03 74.04,209.45 74.31,220.48 C74.58,231.51 74.84,246.70 75.16,253.65 C75.48,260.59 75.79,261.21 76.23,262.15 C76.67,263.10 77.24,257.31 77.80,259.32 C78.36,261.32 78.97,272.07 79.59,274.20 C80.21,276.32 80.85,271.25 81.51,272.07 C82.18,272.90 83.03,280.58 83.58,279.16 C84.13,277.74 84.47,269.80 84.81,263.57 C85.16,257.33 85.36,250.88 85.64,241.74 C85.91,232.60 86.19,216.98 86.46,208.71 C86.74,200.45 87.10,195.27 87.32,192.13 C87.53,188.99 87.61,189.86 87.76,189.86 C87.90,189.86 88.02,188.99 88.20,192.13 C88.38,195.27 88.58,200.45 88.83,208.71 C89.08,216.98 89.39,233.54 89.68,241.74 C89.98,249.94 90.27,254.26 90.59,257.90 C90.91,261.54 91.26,263.57 91.61,263.57 C91.95,263.57 92.32,261.30 92.65,257.90 C92.99,254.50 93.32,247.41 93.62,243.16 C93.91,238.91 94.12,234.98 94.44,232.39 C94.76,229.79 95.08,226.60 95.54,227.57 C96.01,228.53 96.76,234.89 97.22,238.20 C97.68,241.50 97.94,248.85 98.32,247.41 C98.71,245.97 99.10,234.65 99.53,229.55 C99.96,224.45 100.45,215.14 100.91,216.79 C101.36,218.45 101.83,231.77 102.28,239.47 C102.74,247.17 103.17,261.21 103.63,263.00 C104.09,264.80 104.66,255.35 105.03,250.24 C105.40,245.14 105.58,236.80 105.86,232.39 C106.14,227.97 106.41,224.68 106.71,223.74 C107.01,222.79 107.32,225.39 107.65,226.72 C107.97,228.04 108.29,232.15 108.64,231.68 C108.98,231.20 109.39,226.48 109.71,223.88 C110.02,221.28 110.25,217.93 110.53,216.09 C110.82,214.24 111.12,212.12 111.44,212.83 C111.76,213.53 112.12,216.18 112.46,220.34 C112.79,224.50 113.08,231.75 113.45,237.77 C113.82,243.80 114.27,251.71 114.66,256.48 C115.05,261.25 115.32,263.95 115.76,266.40 C116.20,268.86 116.75,272.69 117.33,271.22 C117.91,269.76 118.63,262.15 119.25,257.61 C119.88,253.08 120.58,245.02 121.10,244.01 C121.61,242.99 121.94,249.11 122.36,251.52 C122.78,253.93 123.07,257.64 123.60,258.47 C124.13,259.29 125.01,257.45 125.53,256.48 C126.04,255.51 126.31,256.39 126.71,252.65 C127.11,248.92 127.49,240.16 127.92,234.09 C128.34,228.01 128.82,217.88 129.27,216.23 C129.72,214.57 130.16,220.45 130.61,224.16 C131.07,227.88 131.22,239.78 132.00,238.50 C132.78,237.22 134.22,216.25 135.30,216.50 C136.38,216.75 137.30,232.00 138.50,240.00 C139.70,248.00 141.17,263.67 142.50,264.50 C143.83,265.33 145.15,251.08 146.50,245.00 C147.85,238.92 149.05,226.75 150.60,228.00 C152.15,229.25 154.32,249.92 155.80,252.50 C157.28,255.08 158.27,242.28 159.50,243.50 C160.73,244.72 161.80,261.22 163.20,259.80 C164.60,258.38 166.57,242.72 167.90,235.00 C169.23,227.28 169.90,213.50 171.20,213.50 C172.50,213.50 173.93,228.02 175.70,235.00 C177.47,241.98 179.75,254.57 181.80,255.40 C183.85,256.23 185.98,243.98 188.00,240.00 C190.02,236.02 192.42,230.33 193.90,231.50 C195.38,232.67 195.88,243.88 196.90,247.00 C197.92,250.12 198.93,250.73 200.00,250.20 C201.07,249.67 202.05,245.57 203.30,243.80 C204.55,242.03 206.10,239.60 207.50,239.60 C208.90,239.60 210.08,246.20 211.70,243.80 C213.32,241.40 215.75,226.37 217.20,225.20 C218.65,224.03 218.70,231.58 220.40,236.80 C222.10,242.02 225.70,254.55 227.40,256.50 C229.10,258.45 229.42,251.78 230.60,248.50 C231.78,245.22 233.00,237.77 234.50,236.80 C236.00,235.83 238.32,242.45 239.60,242.70 C240.88,242.95 241.52,238.55 242.20,238.30 C242.88,238.05 242.97,241.57 243.70,241.20 C244.43,240.83 245.10,234.77 246.60,236.10 C248.10,237.43 250.72,249.88 252.70,249.20 C254.68,248.52 256.53,232.48 258.50,232.00 C260.47,231.52 263.02,243.67 264.50,246.30 C265.98,248.93 266.68,247.80 267.40,247.80 C268.12,247.80 267.95,245.70 268.80,246.30 C269.65,246.90 270.72,254.92 272.50,251.40 C274.28,247.88 277.43,226.65 279.50,225.20 C281.57,223.75 283.70,240.27 284.90,242.70 C286.10,245.13 285.18,238.72 286.70,239.80 C288.22,240.88 292.37,247.80 294.00,249.20 C295.63,250.60 294.98,250.75 296.50,248.20 C298.02,245.65 300.85,233.60 303.10,233.90 C305.35,234.20 308.12,248.05 310.00,250.00 C311.88,251.95 312.82,248.72 314.40,245.60 C315.98,242.48 317.62,231.78 319.50,231.30 C321.38,230.82 324.18,241.73 325.70,242.70 C327.22,243.67 326.85,236.13 328.60,237.10 C330.35,238.07 334.57,246.48 336.20,248.50 C337.83,250.52 337.07,251.02 338.40,249.20 C339.73,247.38 342.38,238.57 344.20,237.60 C346.02,236.63 347.75,243.97 349.30,243.40 C350.85,242.83 352.37,234.72 353.50,234.20 C354.63,233.68 355.23,239.13 356.10,240.30 C356.97,241.47 357.82,240.77 358.70,241.20 C359.58,241.63 360.58,242.90 361.40,242.90 C362.22,242.90 362.80,241.20 363.60,241.20 C364.40,241.20 365.40,242.75 366.20,242.90 C367.00,243.05 367.60,241.95 368.40,242.10 C369.20,242.25 369.98,243.22 371.00,243.80 C372.02,244.38 373.55,245.60 374.50,245.60 C375.45,245.60 375.97,243.88 376.70,243.80 C377.43,243.72 378.25,245.10 378.90,245.10 C379.55,245.10 379.95,243.72 380.60,243.80 C381.25,243.88 382.07,246.03 382.80,245.60 C383.53,245.17 384.35,242.15 385.00,241.20 C385.65,240.25 386.07,240.63 386.70,239.90 C387.33,239.17 387.93,237.02 388.80,236.80 C389.67,236.58 391.08,238.45 391.90,238.60 C392.72,238.75 393.03,237.27 393.70,237.70 C394.37,238.13 395.32,240.33 395.90,241.20 C396.48,242.07 396.62,242.75 397.20,242.90 C397.78,243.05 398.60,241.95 399.40,242.10 C400.20,242.25 401.13,243.80 402.00,243.80 C402.87,243.80 403.65,242.10 404.60,242.10 C405.55,242.10 406.75,243.88 407.70,243.80 C408.65,243.72 409.35,242.12 410.30,241.60 C411.25,241.08 412.45,240.98 413.40,240.70 C414.35,240.42 415.20,239.53 416.00,239.90 C416.80,240.27 417.47,242.18 418.20,242.90 C418.93,243.62 419.60,244.12 420.40,244.20 C421.20,244.28 422.13,244.12 423.00,243.40 C423.87,242.68 424.68,240.75 425.60,239.90 C426.52,239.05 427.58,238.48 428.50,238.30 C429.42,238.12 430.25,238.37 431.10,238.80 C431.95,239.23 432.75,240.05 433.60,240.90 C434.45,241.75 435.35,243.45 436.20,243.90 C437.05,244.35 437.77,243.93 438.70,243.60 C439.63,243.27 440.87,241.85 441.80,241.90 C442.73,241.95 443.37,243.73 444.30,243.90 C445.23,244.07 446.37,243.32 447.40,242.90 C448.43,242.48 449.48,241.73 450.50,241.40 C451.52,241.07 452.40,241.08 453.50,240.90 C454.60,240.72 456.08,239.63 457.10,240.30 C458.12,240.97 458.83,244.72 459.60,244.90 C460.37,245.08 461.02,241.57 461.70,241.40 C462.38,241.23 462.85,244.42 463.70,243.90 C464.55,243.38 465.95,238.63 466.80,238.30 C467.65,237.97 468.03,241.73 468.80,241.90 C469.57,242.07 470.53,239.62 471.40,239.30 C472.27,238.98 473.57,239.88 474.00,240.00" stroke="#E0603A" stroke-width="2.1"/>
</g>
<g stroke="#000" stroke-width="1.45" fill="none">
<path d="M471.5,308.25 H36 V96.5 H471.5"/>
<rect x="470.9" y="96" width="2.1" height="212.6" fill="#6a6a6a" stroke="none"/>
<path d="M36,307.96 h4.5"/>
<path d="M36,281.54 h4.5"/>
<path d="M36,255.12 h4.5"/>
<path d="M36,228.70 h4.5"/>
<path d="M36,202.28 h4.5"/>
<path d="M36,175.86 h4.5"/>
<path d="M36,149.44 h4.5"/>
<path d="M36,123.02 h4.5"/>
<path d="M36,96.60 h4.5"/>
<path d="M36.00,308.25 v-4.7"/>
<path d="M111.15,308.25 v-4.7"/>
<path d="M186.30,308.25 v-4.7"/>
<path d="M261.45,308.25 v-4.7"/>
<path d="M336.60,308.25 v-4.7"/>
<path d="M411.75,308.25 v-4.7"/>
</g>
<g font-family="'Liberation Sans', sans-serif" font-size="13.5" fill="#000">
<text x="32.9" y="314.26" text-anchor="end" font-size="14"><tspan letter-spacing="-0.7">-</tspan>5</text>
<text x="32.9" y="287.64" text-anchor="end" font-size="14"><tspan letter-spacing="-0.7">-</tspan>3</text>
<text x="32.9" y="261.02" text-anchor="end" font-size="14"><tspan letter-spacing="-0.7">-</tspan>1</text>
<text x="32.9" y="234.40" text-anchor="end" font-size="14">1</text>
<text x="32.9" y="207.78" text-anchor="end" font-size="14">3</text>
<text x="32.9" y="181.16" text-anchor="end" font-size="14">5</text>
<text x="32.9" y="154.54" text-anchor="end" font-size="14">7</text>
<text x="32.9" y="127.92" text-anchor="end" font-size="14">9</text>
<text x="32.9" y="101.30" text-anchor="end" font-size="14">11</text>
<text x="36.00" y="323.7" text-anchor="middle" font-size="14">1</text>
<text x="111.15" y="323.7" text-anchor="middle" font-size="14">6</text>
<text x="186.30" y="323.7" text-anchor="middle" font-size="14">11</text>
<text x="261.45" y="323.7" text-anchor="middle" font-size="14">16</text>
<text x="336.60" y="323.7" text-anchor="middle" font-size="14">21</text>
<text x="411.75" y="323.7" text-anchor="middle" font-size="14">26</text>
<text x="244.3" y="339.4" text-anchor="middle" font-size="14.6"><tspan font-style="italic">r</tspan> (Å)</text>
<text transform="translate(14.6,203.1) rotate(-90)" text-anchor="middle" font-size="15.2"><tspan font-style="italic">g</tspan>(<tspan font-style="italic">r</tspan>) (Å<tspan font-size="10" dy="-5.5">-2</tspan><tspan dy="5.5">)</tspan></text>
</g>
<g stroke-width="2" fill="none">
<path d="M192.3,275 H217.1" stroke="#E0603A"/>
<path d="M192.3,292 H217.1" stroke="#2DB46A"/>
<path d="M320.4,274.6 H345.2" stroke="#9B4FBF"/>
<path d="M320.4,291.8 H345.2" stroke="#2E66C4"/>
</g>
<g font-family="'Liberation Sans', sans-serif" font-size="13.2" fill="#000">
<text x="220.6" y="280.2">MndBi3_10y</text>
<text x="220.6" y="296.8">MndBi8_10y</text>
<text x="348.9" y="280">MndBi4_10y</text>
<text x="348.9" y="296.6">MndBi10_10y</text>
</g>
<text x="120.5" y="173.1" font-family="'Liberation Sans', sans-serif" font-size="10.7" fill="#000">7.56 Å</text>
<path d="M132.2,177.8 H137.9 V186.5 H140.9 L135.1,195.0 L129.3,186.5 H132.2 Z" fill="#000"/>
<rect x="206" y="13" width="261.8" height="185" fill="#fff"/>
<g clip-path="url(#ci)" fill="none" stroke-width="2.1" stroke-linejoin="round" stroke-linecap="round">
<path d="M206.00,168.50 C206.58,170.25 208.32,175.33 209.50,179.00 C210.68,182.67 212.10,190.33 213.10,190.50 C214.10,190.67 214.77,186.75 215.50,180.00 C216.23,173.25 216.83,159.17 217.50,150.00 C218.17,140.83 218.83,135.73 219.50,125.00 C220.17,114.27 220.75,95.60 221.50,85.60 C222.25,75.60 223.28,69.77 224.00,65.00 C224.72,60.23 225.17,57.00 225.80,57.00 C226.43,57.00 227.08,60.23 227.80,65.00 C228.52,69.77 229.32,75.60 230.10,85.60 C230.88,95.60 231.85,114.60 232.50,125.00 C233.15,135.40 233.42,140.83 234.00,148.00 C234.58,155.17 235.33,162.67 236.00,168.00 C236.67,173.33 237.28,177.08 238.00,180.00 C238.72,182.92 239.30,185.50 240.30,185.50 C241.30,185.50 242.63,182.58 244.00,180.00 C245.37,177.42 247.22,173.33 248.50,170.00 C249.78,166.67 250.70,165.57 251.70,160.00 C252.70,154.43 253.78,141.95 254.50,136.60 C255.22,131.25 255.50,129.83 256.00,127.90 C256.50,125.97 257.00,125.00 257.50,125.00 C258.00,125.00 258.50,125.97 259.00,127.90 C259.50,129.83 259.58,131.25 260.50,136.60 C261.42,141.95 262.87,155.35 264.50,160.00 C266.13,164.65 268.35,163.92 270.30,164.50 C272.25,165.08 274.17,162.50 276.20,163.50 C278.23,164.50 280.28,169.42 282.50,170.50 C284.72,171.58 287.08,169.37 289.50,170.00 C291.92,170.63 295.00,174.97 297.00,174.30 C299.00,173.63 300.25,169.72 301.50,166.00 C302.75,162.28 303.50,157.83 304.50,152.00 C305.50,146.17 306.50,136.20 307.50,131.00 C308.50,125.80 309.72,122.80 310.50,120.80 C311.28,118.80 311.62,119.00 312.20,119.00 C312.78,119.00 313.28,118.80 314.00,120.80 C314.72,122.80 315.58,126.13 316.50,131.00 C317.42,135.87 318.42,145.17 319.50,150.00 C320.58,154.83 321.77,157.78 323.00,160.00 C324.23,162.22 325.73,163.52 326.90,163.30 C328.07,163.08 328.90,161.50 330.00,158.70 C331.10,155.90 332.27,150.87 333.50,146.50 C334.73,142.13 336.30,135.53 337.40,132.50 C338.50,129.47 339.33,129.25 340.10,128.30 C340.87,127.35 341.38,126.75 342.00,126.80 C342.62,126.85 343.12,126.48 343.80,128.60 C344.48,130.72 345.20,135.65 346.10,139.50 C347.00,143.35 348.10,148.78 349.20,151.70 C350.30,154.62 351.10,156.95 352.70,157.00 C354.30,157.05 356.92,151.50 358.80,152.00 C360.68,152.50 362.25,157.28 364.00,160.00 C365.75,162.72 367.47,169.00 369.30,168.30 C371.13,167.60 373.38,160.18 375.00,155.80 C376.62,151.42 377.68,145.13 379.00,142.00 C380.32,138.87 381.65,137.92 382.90,137.00 C384.15,136.08 385.20,136.62 386.50,136.50 C387.80,136.38 389.37,136.63 390.70,136.30 C392.03,135.97 393.18,135.18 394.50,134.50 C395.82,133.82 397.27,131.28 398.60,132.20 C399.93,133.12 401.18,136.93 402.50,140.00 C403.82,143.07 404.97,146.93 406.50,150.60 C408.03,154.27 409.95,159.52 411.70,162.00 C413.45,164.48 415.25,164.57 417.00,165.50 C418.75,166.43 420.53,168.02 422.20,167.60 C423.87,167.18 425.13,165.40 427.00,163.00 C428.87,160.60 431.57,153.70 433.40,153.20 C435.23,152.70 436.48,157.90 438.00,160.00 C439.52,162.10 440.58,164.95 442.50,165.80 C444.42,166.65 447.62,165.40 449.50,165.10 C451.38,164.80 452.55,165.18 453.80,164.00 C455.05,162.82 455.97,160.23 457.00,158.00 C458.03,155.77 458.68,153.43 460.00,150.60 C461.32,147.77 463.57,142.17 464.90,141.00 C466.23,139.83 467.48,143.17 468.00,143.60" stroke="#2E66C4"/>
<path d="M206.00,170.90 C206.58,172.08 208.32,175.15 209.50,178.00 C210.68,180.85 212.10,188.00 213.10,188.00 C214.10,188.00 214.75,185.10 215.50,178.00 C216.25,170.90 216.87,154.23 217.60,145.40 C218.33,136.57 219.12,134.97 219.90,125.00 C220.68,115.03 221.73,93.87 222.30,85.60 C222.87,77.33 222.78,78.58 223.30,75.40 C223.82,72.22 224.68,66.50 225.40,66.50 C226.12,66.50 227.02,72.22 227.60,75.40 C228.18,78.58 228.15,77.33 228.90,85.60 C229.65,93.87 231.32,115.03 232.10,125.00 C232.88,134.97 233.02,138.73 233.60,145.40 C234.18,152.07 234.90,158.98 235.60,165.00 C236.30,171.02 237.02,177.53 237.80,181.50 C238.58,185.47 239.27,188.55 240.30,188.80 C241.33,189.05 242.77,186.13 244.00,183.00 C245.23,179.87 246.82,173.83 247.70,170.00 C248.58,166.17 248.57,165.57 249.30,160.00 C250.03,154.43 251.20,144.38 252.10,136.60 C253.00,128.82 254.02,119.35 254.70,113.30 C255.38,107.25 255.73,102.92 256.20,100.30 C256.67,97.68 257.07,97.60 257.50,97.60 C257.93,97.60 258.30,97.68 258.80,100.30 C259.30,102.92 259.75,107.25 260.50,113.30 C261.25,119.35 262.32,128.82 263.30,136.60 C264.28,144.38 265.23,155.10 266.40,160.00 C267.57,164.90 268.70,165.33 270.30,166.00 C271.90,166.67 273.97,162.58 276.00,164.00 C278.03,165.42 280.25,173.00 282.50,174.50 C284.75,176.00 287.08,172.42 289.50,173.00 C291.92,173.58 295.00,179.00 297.00,178.00 C299.00,177.00 300.25,171.40 301.50,167.00 C302.75,162.60 303.50,158.05 304.50,151.60 C305.50,145.15 306.48,134.13 307.50,128.30 C308.52,122.47 309.82,118.82 310.60,116.60 C311.38,114.38 311.67,115.00 312.20,115.00 C312.73,115.00 313.15,114.38 313.80,116.60 C314.45,118.82 315.20,122.47 316.10,128.30 C317.00,134.13 318.13,145.82 319.20,151.60 C320.27,157.38 321.33,160.43 322.50,163.00 C323.67,165.57 324.95,167.00 326.20,167.00 C327.45,167.00 328.78,165.40 330.00,163.00 C331.22,160.60 332.42,155.60 333.50,152.60 C334.58,149.60 335.33,146.83 336.50,145.00 C337.67,143.17 338.82,140.92 340.50,141.60 C342.18,142.28 344.92,146.77 346.60,149.10 C348.28,151.43 349.20,156.62 350.60,155.60 C352.00,154.58 353.43,146.60 355.00,143.00 C356.57,139.40 358.33,132.83 360.00,134.00 C361.67,135.17 363.35,144.57 365.00,150.00 C366.65,155.43 368.23,165.33 369.90,166.60 C371.57,167.87 373.65,161.20 375.00,157.60 C376.35,154.00 376.98,148.12 378.00,145.00 C379.02,141.88 380.02,139.57 381.10,138.90 C382.18,138.23 383.33,140.07 384.50,141.00 C385.67,141.93 386.85,144.83 388.10,144.50 C389.35,144.17 390.85,140.83 392.00,139.00 C393.15,137.17 393.95,134.80 395.00,133.50 C396.05,132.20 397.13,130.70 398.30,131.20 C399.47,131.70 400.78,133.57 402.00,136.50 C403.22,139.43 404.27,144.55 405.60,148.80 C406.93,153.05 408.60,158.63 410.00,162.00 C411.40,165.37 412.38,167.27 414.00,169.00 C415.62,170.73 417.58,173.43 419.70,172.40 C421.82,171.37 424.42,166.00 426.70,162.80 C428.98,159.60 431.52,153.92 433.40,153.20 C435.28,152.48 436.48,156.80 438.00,158.50 C439.52,160.20 440.58,162.82 442.50,163.40 C444.42,163.98 447.62,162.68 449.50,162.00 C451.38,161.32 452.35,161.93 453.80,159.30 C455.25,156.67 456.65,150.48 458.20,146.20 C459.75,141.92 461.47,134.77 463.10,133.60 C464.73,132.43 467.18,138.27 468.00,139.20" stroke="#E0603A"/>
</g>
<g stroke="#000" stroke-width="1.4" fill="none">
<rect x="206.1" y="13" width="261.7" height="185.1"/>
<path d="M206,49.20 h4.5"/>
<path d="M206,86.00 h4.5"/>
<path d="M206,123.50 h4.5"/>
<path d="M206,161.00 h4.5"/>
<path d="M233.32,198 v-5"/>
<path d="M260.64,198 v-5"/>
<path d="M287.96,198 v-5"/>
<path d="M315.28,198 v-5"/>
<path d="M342.60,198 v-5"/>
<path d="M369.92,198 v-5"/>
<path d="M397.24,198 v-5"/>
<path d="M424.56,198 v-5"/>
<path d="M451.88,198 v-5"/>
</g>
<g font-family="'Liberation Sans', sans-serif" font-size="13.5" fill="#000">
<text x="201.9" y="54.50" text-anchor="end" font-size="14">9</text>
<text x="201.9" y="91.30" text-anchor="end" font-size="14">7</text>
<text x="201.9" y="128.80" text-anchor="end" font-size="14">3</text>
<text x="201.9" y="166.30" text-anchor="end" font-size="14"><tspan letter-spacing="-0.7">-</tspan>1</text>
<text x="206.00" y="213" text-anchor="middle">2.5</text>
<text x="233.32" y="213" text-anchor="middle">3</text>
<text x="260.64" y="213" text-anchor="middle">3.5</text>
<text x="287.96" y="213" text-anchor="middle">4</text>
<text x="315.28" y="213" text-anchor="middle">4.5</text>
<text x="342.60" y="213" text-anchor="middle">5</text>
<text x="369.92" y="213" text-anchor="middle">5.5</text>
<text x="397.24" y="213" text-anchor="middle">6</text>
<text x="424.56" y="213" text-anchor="middle">6.5</text>
<text x="451.88" y="213" text-anchor="middle">7</text>
</g>
<g font-family="'Liberation Sans', sans-serif" font-size="10.7" fill="#000">
<text x="210.6" y="27.3">2.87 Å</text>
<text x="242.6" y="68.1">3.45 Å</text>
<text x="326" y="100">4.95 Å</text>
<text x="345.2" y="62">5.42 Å</text>
<text x="372.6" y="108.6">5.72 Å</text>
<text x="435.2" y="106.6">7.22 Å</text>
</g>
<path d="M223.0,31.9 H229.0 V40.9 H231.8 L226.0,49.4 L220.2,40.9 H223.0 Z" fill="#000"/>
<path d="M337.8,105.2 H344.6 V114.0 H347.8 L341.2,123.8 L334.6,114.0 H337.8 Z" fill="#000"/>
<path d="M385.2,114.2 H391.0 V122.9 H393.9 L388.1,131.4 L382.3,122.9 H385.2 Z" fill="#000"/>
<path d="M257.7,74.3 L263.6,83.0 H260.5 V91.1 H254.9 V83.0 H251.8 Z" fill="#b4b4b4" stroke="#000" stroke-width="1.1" stroke-linejoin="miter"/>
<path d="M360.3,112.8 L366.3,121.2 H363.2 V128.8 H357.4 V121.2 H354.3 Z" fill="#b4b4b4" stroke="#000" stroke-width="1.1" stroke-linejoin="miter"/>
<path d="M461.0,111.5 L467.1,119.7 H463.5 V127.7 H458.5 V119.7 H454.9 Z" fill="#b4b4b4" stroke="#000" stroke-width="1.1" stroke-linejoin="miter"/>
<path d="M360.3,67.3 V108.5" stroke="#000" stroke-width="1.15" stroke-dasharray="4,3" stroke-dashoffset="2"/>
</svg>
</body></html>
